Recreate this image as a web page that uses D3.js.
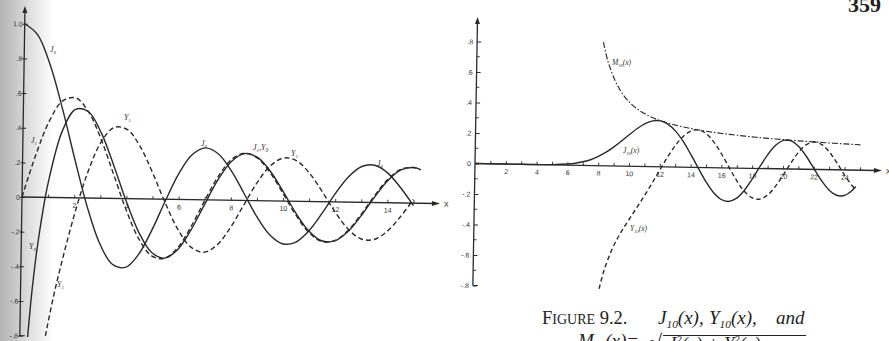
<!DOCTYPE html>
<html><head><meta charset="utf-8">
<script src="https://cdn.jsdelivr.net/npm/d3@7"></script>
<style>body{margin:0;background:#fff} svg{display:block}</style>
</head><body>
<script>
// ---------- Figure 9.1 : J0, J1, Y0, Y1 ----------
const xJ0 = [0,0.5,1,1.5,2,2.5,3,3.5,4,4.5,5,5.5,6,6.5,7,7.5,8,8.5,9,9.5,10,10.5,11,11.5,12,12.5,13,13.5,14,14.5,15];
const J0  = [1.0,0.9385,0.7652,0.5118,0.2239,-0.0484,-0.2601,-0.3801,-0.3971,-0.3205,-0.1776,-0.0068,0.1506,0.2601,0.3001,0.2663,0.1717,0.0419,-0.0903,-0.1939,-0.2459,-0.2366,-0.1712,-0.0677,0.0477,0.1469,0.2069,0.2150,0.1711,0.0875,-0.0142];
const xJ1 = [0,0.5,1,1.5,2,2.5,3,3.5,4,4.5,5,5.5,6,6.5,7,7.5,8,8.5,9,9.5,10,10.5,11,11.5,12,12.5,13,13.5,14,14.5,15,15.25];
const J1  = [0,0.2423,0.4401,0.5579,0.5767,0.4971,0.3391,0.1374,-0.0660,-0.2311,-0.3276,-0.3414,-0.2767,-0.1538,-0.0047,0.1352,0.2346,0.2731,0.2453,0.1613,0.0435,-0.0789,-0.1768,-0.2284,-0.2234,-0.1655,-0.0703,0.0380,0.1334,0.1934,0.2051,0.1918];
const xY0 = [0.3,0.4,0.5,0.6,0.8,1,1.5,2,2.5,3,3.5,4,4.5,5,5.5,6,6.5,7,7.5,8,8.5,9,9.5,10,10.5,11,11.5,12,12.5,13,13.5,14,14.5,15,15.25];
const Y0  = [-0.8073,-0.6060,-0.4445,-0.3085,-0.0868,0.0883,0.3824,0.5104,0.4981,0.3769,0.1890,-0.0169,-0.1947,-0.3085,-0.3395,-0.2882,-0.1732,-0.0259,0.1173,0.2235,0.2702,0.2499,0.1712,0.0557,-0.0676,-0.1688,-0.2254,-0.2252,-0.1713,-0.0782,0.0301,0.1272,0.1903,0.2055,0.1940];
const xY1 = [0.98,1,1.25,1.5,2,2.5,3,3.5,4,4.5,5,5.5,6,6.5,7,7.5,8,8.5,9,9.5,10,10.5,11,11.5,12,12.5,13,13.5,14,14.5,15];
const Y1  = [-0.799,-0.7812,-0.583,-0.4123,-0.1070,0.1459,0.3247,0.4102,0.3979,0.3010,0.1479,-0.0238,-0.1750,-0.2741,-0.3027,-0.2591,-0.1581,-0.0262,0.1043,0.2030,0.2490,0.2335,0.1637,0.0578,-0.0571,-0.1537,-0.2101,-0.2139,-0.1665,-0.0810,0.0211];
const leftYTicks  = [-0.8,-0.6,-0.4,-0.2,0,0.2,0.4,0.6,0.8,1.0];
const leftYLabels = ["-.8","-.6","-.4","-.2","0",".2",".4",".6",".8","1.0"];
const leftXTicks  = [1,2,3,4,5,6,7,8,9,10,11,12,13,14,15];
const leftXLabels = [2,4,6,8,10,12,14];

// ---------- Figure 9.2 : J10, Y10, M10 ----------
const xJ10 = [0,1,2,3,4,5,6,6.5,7,7.5,8,8.5,9,9.5,10,10.5,11,11.5,12,12.5,13,13.5,14,14.5,15,15.5,16,16.5,17,17.5,18,18.5,19,19.5,20,20.5,21,21.5,22,22.5,23,23.5,24,24.5,24.75];
const J10  = [0,0,0,0,0.0002,0.0015,0.0070,0.0130,0.0235,0.0380,0.0608,0.0890,0.1247,0.1651,0.2075,0.2478,0.2804,0.2997,0.3005,0.2790,0.2336,0.1671,0.0848,-0.0046,-0.0903,-0.1611,-0.2062,-0.2198,-0.1991,-0.1474,-0.0731,0.0114,0.0916,0.1536,0.1865,0.1846,0.1485,0.0853,0.0075,-0.0701,-0.1322,-0.1670,-0.1677,-0.1348,-0.1076];
const xY10 = [8.2,8.5,9,9.5,10,10.5,11,11.5,12,12.5,13,13.5,14,14.5,15,15.5,16,16.5,17,17.5,18,18.5,19,19.5,20,20.5,21,21.5,22,22.5,23,23.5,24,24.5,24.75];
const Y10  = [-0.807,-0.6855,-0.5455,-0.4435,-0.3598,-0.2800,-0.1983,-0.1118,-0.0225,0.0650,0.1426,0.2029,0.2388,0.2451,0.2200,0.1659,0.0906,0.0038,-0.0808,-0.1499,-0.1926,-0.2017,-0.1759,-0.1199,-0.0439,0.0382,0.1113,0.1617,0.1800,0.1633,0.1151,0.0452,-0.0322,-0.1014,-0.1286];
const xM10 = [8.2,8.5,9,9.5,10,10.5,11,11.5,12,12.5,13,13.5,14,14.5,15,15.5,16,16.5,17,17.5,18,18.5,19,19.5,20,20.5,21,21.5,22,22.5,23,23.5,24,24.5,25];
const M10  = [0.810,0.691,0.560,0.473,0.415,0.374,0.344,0.320,0.3014,0.2865,0.2737,0.2628,0.2534,0.2451,0.2378,0.2312,0.2253,0.2198,0.2149,0.2103,0.2060,0.2020,0.1983,0.1949,0.1916,0.1885,0.1856,0.1828,0.1802,0.1777,0.1753,0.1730,0.1708,0.1687,0.1667];
const rightYTicks  = [-0.8,-0.6,-0.4,-0.2,0,0.2,0.4,0.6,0.8];
const rightYLabels = ["-.8","-.6","-.4","-.2","0",".2",".4",".6",".8"];
const rightYMinor  = [-0.7,-0.5,-0.3,-0.1,0.1,0.3,0.5,0.7];
const rightXTicks  = [1,2,3,4,5,6,7,8,9,10,11,12,13,14,15,16,17,18,19,20,21,22,23,24,25];
const rightXLabels = [2,4,6,8,10,12,14,16,18,20,22,24];

const W = 889, H = 341, INK = "#2a2a2a";
const svg = d3.select("body").append("svg").attr("width", W).attr("height", H)
  .style("font-family", "'Liberation Serif', serif");

// page gutter shading at the left
const defs = svg.append("defs");
const grad = defs.append("linearGradient").attr("id", "gut").attr("x1", 0).attr("x2", 1);
[[0,"#b3b3b3"],[0.25,"#c6c6c6"],[0.55,"#e0e0e0"],[1,"#ffffff"]].forEach(([o,c]) =>
  grad.append("stop").attr("offset", o).attr("stop-color", c));
svg.append("rect").attr("x", 0).attr("y", 0).attr("width", 54).attr("height", H).attr("fill", "url(#gut)");

function pairs(xs, ys) { return xs.map((x, i) => [x, ys[i]]); }

function chart(cfg) {
  const x = d3.scaleLinear().domain([0, 1]).range([cfg.ox, cfg.ox + cfg.kx]);
  const y = d3.scaleLinear().domain([0, 1]).range([cfg.oy, cfg.oy - cfg.ky]);
  const g = svg.append("g").attr("transform", `rotate(${cfg.rot},${cfg.ox},${cfg.oy})`);
  const yBot = y(-0.8);

  // y axis
  const ya = g.append("g").attr("transform", `translate(${cfg.ox},0)`)
    .call(d3.axisLeft(y).tickValues(cfg.yTicks).tickSize(3)
      .tickFormat((d, i) => cfg.yLabels[i]));
  ya.select(".domain").remove();
  ya.selectAll(".tick line").attr("x2", cfg.yTickRight ? 4 : 3).attr("x1", cfg.yTickRight ? 0 : -2).attr("stroke", INK);
  ya.selectAll(".tick text").attr("x", cfg.yLabelX).attr("font-size", 7).attr("fill", "#333")
    .attr("font-family", "'Liberation Sans', sans-serif");
  if (cfg.yMinor) {
    g.selectAll(".ymin").data(cfg.yMinor).join("line")
      .attr("x1", cfg.ox).attr("x2", cfg.ox + 3).attr("y1", d => y(d)).attr("y2", d => y(d))
      .attr("stroke", INK).attr("stroke-width", 0.9);
  }
  g.append("line").attr("x1", cfg.ox).attr("x2", cfg.ox).attr("y1", yBot).attr("y2", cfg.topY + 5)
    .attr("stroke", INK).attr("stroke-width", 1.3);
  g.append("line").attr("x1", cfg.ox).attr("x2", cfg.ox + 5).attr("y1", yBot).attr("y2", yBot)
    .attr("stroke", INK).attr("stroke-width", 1.1);
  g.append("path").attr("d", `M${cfg.ox},${cfg.topY} L${cfg.ox-2.5},${cfg.topY+7} L${cfg.ox+2.5},${cfg.topY+7} Z`).attr("fill", INK);

  // x axis
  const xa = g.append("g").attr("transform", `translate(0,${cfg.oy})`)
    .call(d3.axisBottom(x).tickValues(cfg.xTicks).tickSize(-3)
      .tickFormat(d => cfg.xLabels.includes(d) ? d : ""));
  xa.select(".domain").remove();
  xa.selectAll(".tick line").attr("stroke", INK).attr("stroke-width", 0.9);
  xa.selectAll(".tick text").attr("y", 5).attr("font-size", 7).attr("fill", "#333")
    .attr("font-family", "'Liberation Sans', sans-serif");
  g.append("line").attr("x1", cfg.ox).attr("x2", cfg.arrowX - 5).attr("y1", cfg.oy).attr("y2", cfg.oy)
    .attr("stroke", INK).attr("stroke-width", 1.3);
  g.append("path").attr("d", `M${cfg.arrowX},${cfg.oy} L${cfg.arrowX-8},${cfg.oy-2.5} L${cfg.arrowX-8},${cfg.oy+2.5} Z`).attr("fill", INK);
  g.append("text").attr("x", cfg.arrowX + 4).attr("y", cfg.oy + 3).attr("font-size", 9)
    .attr("fill", "#333").attr("font-family", "'Liberation Sans', sans-serif").text("x");

  const line = d3.line().x(d => x(d[0])).y(d => y(d[1])).curve(d3.curveCatmullRom.alpha(0.5));
  cfg.series.forEach(s => {
    g.append("path").attr("d", line(pairs(s.x, s.y))).attr("fill", "none")
      .attr("stroke", INK).attr("stroke-width", s.w || 1.4)
      .attr("stroke-dasharray", s.dash || null).attr("stroke-linecap", "butt");
  });
  return g;
}

chart({
  ox: 22, oy: 197, kx: 26.1, ky: 173.3, rot: 0.9, topY: 6, arrowX: 440, yLabelX: -2,
  yTicks: leftYTicks, yLabels: leftYLabels, xTicks: leftXTicks, xLabels: leftXLabels,
  series: [
    { x: xJ0, y: J0 },
    { x: xY0, y: Y0 },
    { x: xJ1, y: J1, dash: "5,3" },
    { x: xY1, y: Y1, dash: "5,3" }
  ]
});

chart({
  ox: 475, oy: 163.5, kx: 15.4, ky: 152.5, rot: 1.0, topY: 17, arrowX: 882, yTickRight: true, yLabelX: -4,
  yTicks: rightYTicks, yLabels: rightYLabels, yMinor: rightYMinor,
  xTicks: rightXTicks, xLabels: rightXLabels,
  series: [
    { x: xJ10, y: J10 },
    { x: xY10, y: Y10, dash: "4.5,3" },
    { x: xM10, y: M10, dash: "6,2,1.5,2", w: 1.15 }
  ]
});

// curve labels
function lab(x, y, base, sub, extra, size, italic) {
  const t = svg.append("text").attr("x", x).attr("y", y).attr("font-size", size || 8)
    .attr("fill", "#333").attr("font-style", italic === false ? null : "italic");
  t.append("tspan").text(base);
  if (sub) t.append("tspan").attr("font-size", (size || 8) * 0.6).attr("dy", (size || 8) * 0.2).text(sub);
  if (extra) t.append("tspan").attr("dy", sub ? -(size || 8) * 0.2 : 0).text(extra);
  return t;
}
lab(50, 52, "J", "0");
lab(31, 143, "J", "1");
lab(124, 120, "Y", "1");
lab(201, 146, "J", "0");
const jy = lab(253, 150, "J", "1", ",Y");
jy.append("tspan").attr("font-size", 5.6).attr("dy", 2).text("0");
lab(291, 156, "Y", "1");
lab(377, 166, "J", "0");
lab(29, 249, "Y", "0");
lab(57, 287, "Y", "1");

lab(612, 65, "M", "10", "(x)", 7.5);
lab(623, 153, "J", "10", "(x)", 7.5);
lab(630, 231, "Y", "10", "(x)", 7.5);

// caption
const cap = svg.append("text").attr("x", 542).attr("y", 324).attr("font-size", 18.5).attr("fill", "#222");
cap.append("tspan").text("F");
cap.append("tspan").attr("font-size", 14).text("IGURE");
cap.append("tspan").text(" 9.2.");
lab(658, 324, "J", "10", "(x),", 19).attr("fill", "#222");
lab(709, 324, "Y", "10", "(x),", 19).attr("fill", "#222");
lab(776, 324, "and", null, null, 19).attr("fill", "#222");

lab(578, 347, "M", "10", "(x)=", 19).attr("fill", "#222");
svg.append("text").attr("x", 650).attr("y", 350).attr("font-size", 22).attr("fill", "#222").text("√");
svg.append("line").attr("x1", 663).attr("x2", 806).attr("y1", 335.5).attr("y2", 335.5).attr("stroke", "#222").attr("stroke-width", 1.1);
const cap4 = svg.append("text").attr("x", 668).attr("y", 350).attr("font-size", 18.5).attr("fill", "#222").attr("font-style", "italic");
cap4.append("tspan").text("J");
cap4.append("tspan").attr("font-size", 11).attr("dy", -7).text("2");
cap4.append("tspan").attr("dy", 7).text("(x) + Y");
cap4.append("tspan").attr("font-size", 11).attr("dy", -7).text("2");
cap4.append("tspan").attr("dy", 7).text("(x)");

// page number
svg.append("text").attr("x", 848).attr("y", 12).attr("font-size", 22).attr("font-weight", "bold")
  .attr("fill", "#222").text("359");
</script>
</body></html>
